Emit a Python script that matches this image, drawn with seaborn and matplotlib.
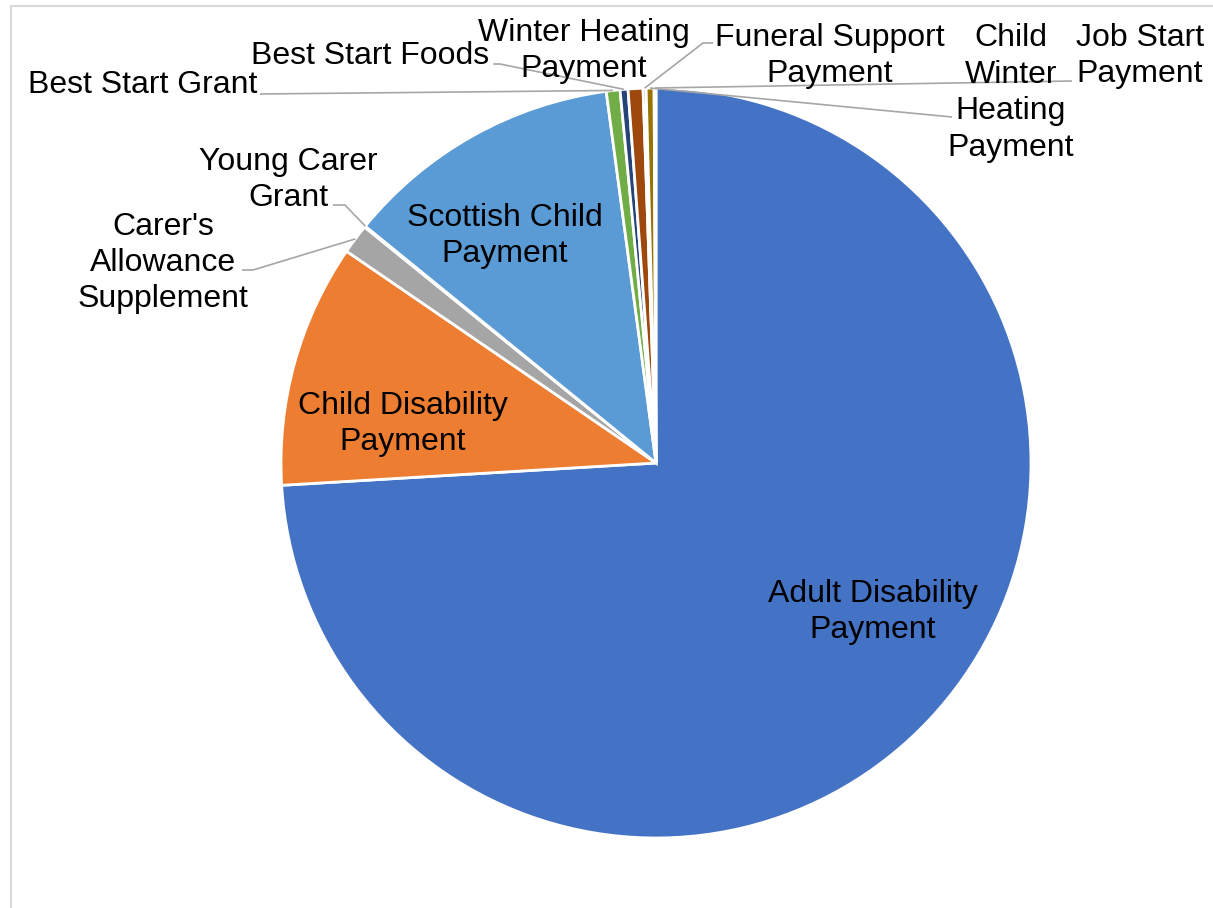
import numpy as np
import matplotlib
matplotlib.use("Agg")
import matplotlib.pyplot as plt
import seaborn as sns

# ---- data ----
categories = ["Adult Disability Payment", "Child Disability Payment",
              "Carer's Allowance Supplement", "Young Carer Grant",
              "Scottish Child Payment", "Best Start Grant", "Best Start Foods",
              "Winter Heating Payment", "Funeral Support Payment",
              "Child Winter Heating Payment", "Job Start Payment"]
shares = [74.06, 10.5, 1.28, 0.05, 12.0, 0.59, 0.34, 0.64, 0.13, 0.34, 0.08]
colors = ["#4472C4", "#ED7D31", "#A5A5A5", "#FFC000", "#5B9BD5", "#70AD47",
          "#264478", "#9E480E", "#636363", "#997300", "#255E91"]
label_texts = ["Adult Disability\nPayment", "Child Disability\nPayment",
               "Carer's\nAllowance\nSupplement", "Young Carer\nGrant",
               "Scottish Child\nPayment", "Best Start Grant", "Best Start Foods",
               "Winter Heating\nPayment", "Funeral Support\nPayment",
               "Child\nWinter\nHeating\nPayment", "Job Start\nPayment"]

sns.set_theme(style="white")
plt.rcParams['font.family'] = ['Liberation Sans', 'DejaVu Sans']

W, H = 1213, 908
fig = plt.figure(figsize=(W / 100, H / 100), dpi=100)
ax = fig.add_axes([0, 0, 1, 1])

def P(x, y):
    return x, H - y

CX, CY, R = 656, 463, 375
wedges, _ = ax.pie(shares, colors=colors, startangle=90, counterclock=False,
                   center=P(CX, CY), radius=R,
                   wedgeprops=dict(edgecolor="white", linewidth=2.0))
ax.set_xlim(0, W)
ax.set_ylim(0, H)
ax.set_aspect("equal")
ax.axis("off")

def edge_point(w, frac=0.5):
    ang = np.deg2rad(w.theta1 + (w.theta2 - w.theta1) * frac)
    cx, cy = w.center
    return cx + w.r * np.cos(ang), cy + w.r * np.sin(ang)

# label positions (pixel centre) and leader-line text-side points
layout = {
    0: dict(pos=(873, 612)),
    1: dict(pos=(403, 424)),
    2: dict(pos=(163, 263), lead=[(242, 270), (253, 270)]),
    3: dict(pos=(288, 180), lead=[(333, 205), (345, 205)], frac=0.0),
    4: dict(pos=(505, 236)),
    5: dict(pos=(143, 85), lead=[(260, 94)]),
    6: dict(pos=(370, 56), lead=[(493, 64), (500, 64)]),
    7: dict(pos=(584, 51)),
    8: dict(pos=(830, 56), lead=[(713, 43), (703, 43)]),
    9: dict(pos=(1011, 93), lead=[(952, 117)]),
    10: dict(pos=(1140, 56), lead=[(1072, 81)]),
}

for i, spec in layout.items():
    x, y = P(*spec["pos"])
    ax.text(x, y, label_texts[i], ha="center", va="center", fontsize=23,
            color="black", linespacing=1.28, multialignment="center", zorder=5)
    if "lead" in spec:
        pts = [P(*p) for p in spec["lead"]]
        pts.append(edge_point(wedges[i], spec.get("frac", 0.5)))
        xs, ys = zip(*pts)
        ax.plot(xs, ys, color="#A6A6A6", lw=1.2, zorder=4, solid_capstyle="butt")

# chart area border (top and left visible)
ax.plot([10.5, W], [H - 5.5, H - 5.5], color="#D9D9D9", lw=1.5, clip_on=False)
ax.plot([10.5, 10.5], [H - 5.5, 0], color="#D9D9D9", lw=1.5, clip_on=False)

fig.savefig("out.png", dpi=100)
